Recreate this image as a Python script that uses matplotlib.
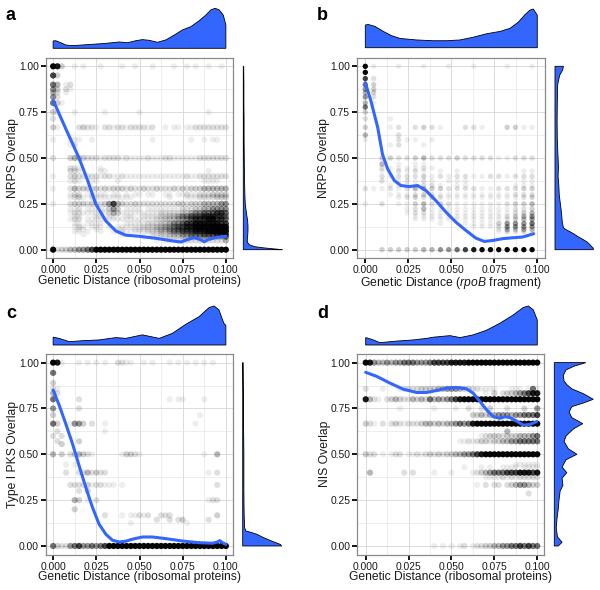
import matplotlib
matplotlib.use("Agg")
import matplotlib.pyplot as plt
import numpy as np

plt.rcParams['font.family'] = ['Liberation Sans', 'DejaVu Sans']
plt.rcParams['mathtext.fontset'] = 'custom'
plt.rcParams['mathtext.rm'] = 'Liberation Sans'
plt.rcParams['mathtext.it'] = 'Liberation Sans:italic'

BLUE = '#3366FF'
W, H = 600, 590

# ---------------- data ----------------
# x positions of the scatter columns (distance values)
DIST_COLS = [0.0, 0.0025, 0.005, 0.0075, 0.01, 0.0125, 0.015, 0.0175, 0.02, 0.0225,
             0.025, 0.0275, 0.03, 0.0325, 0.035, 0.0375, 0.04, 0.0425, 0.045, 0.0475,
             0.05, 0.0525, 0.055, 0.0575, 0.06, 0.0625, 0.065, 0.0675, 0.07, 0.0725,
             0.075, 0.0775, 0.08, 0.0825, 0.085, 0.0875, 0.09, 0.0925, 0.095, 0.0975, 0.1]
RPOB_COLS = [0.0, 0.0049, 0.0097, 0.0146, 0.0194, 0.0243, 0.0291, 0.034, 0.0388, 0.0437,
             0.0485, 0.0534, 0.0582, 0.0631, 0.0679, 0.0728, 0.0776, 0.0825, 0.0873, 0.0922, 0.097]

# digit in a row string -> number of overlapping points at that spot
STACK = [0, 1, 2, 3, 5, 8, 12, 20, 35, 60]

# panel a: NRPS overlap vs ribosomal protein distance
A_LEVELS = [1.0, 0.95, 0.9, 0.875, 0.857, 0.833, 0.8, 0.75, 0.714, 0.667, 0.6, 0.571,
            0.5, 0.444, 0.429, 0.4, 0.375, 0.333, 0.3, 0.286, 0.25, 0.222, 0.2, 0.182,
            0.167, 0.143, 0.125, 0.111, 0.1, 0.083, 0.071, 0.05, 0.0]
A_ROWS = [
    "9830010100 0100001001 0001000010 0101001001 0",
    "7300000000 0000000000 0000000000 0000000000 0",
    "6401200000 0000000000 0000000000 0000000000 0",
    "5302100000 0000000000 0000000000 0000000000 0",
    "4201000000 0000000000 0000000000 0000000000 0",
    "5200000000 0000000000 0000000000 0000000000 0",
    "6310000000 0000000000 0000000000 0000000000 0",
    "3100010000 0010000000 1000000000 0000001000 0",
    "2000000000 0000000000 0000000000 0000000000 0",
    "3100002322 1022122122 2212001011 0112222222 2",
    "1000111001 0000000000 0001000000 0010010110 0",
    "0000120000 0000000000 0000000000 0000000000 0",
    "2000343322 2122221211 1121112211 1111222222 2",
    "0000221000 0100000000 0000000000 0000000000 0",
    "0000221000 0110000000 0000000000 0000001000 0",
    "1000232222 2122112111 1111111111 1211222222 2",
    "0000121001 1000010000 0000000000 0000011110 0",
    "1000243332 3232333232 2322322232 3233344444 4",
    "0000122011 1110110101 1011001101 1211222333 3",
    "0000123102 1111111110 0000000100 0111222233 3",
    "1000233323 2235743223 2222222223 3233344445 5",
    "0000112011 1113530111 1011111111 2223344555 5",
    "0000122111 1112431111 1111122222 3345566677 6",
    "0000011000 1101100110 0111122334 5566677766 5",
    "0000122011 1111111111 1111223334 4567778877 6",
    "0000011011 1100000111 1122233455 6778888887 7",
    "0000012101 1101011111 1222334456 6778888888 8",
    "0000001100 1000001001 1111233445 5667777887 7",
    "0000011010 0100111111 1122233455 6667778888 8",
    "0000000100 0000001000 0001121233 4455566677 7",
    "0000000000 0000000000 0101112222 3344444444 6",
    "0000000000 0000000000 0000101111 1222222222 4",
    "9233445567 9999999999 9999999999 9999999999 9",
]
A_SMOOTH_X = [0.0, 0.0073, 0.015, 0.02, 0.0247, 0.0305, 0.0363, 0.042, 0.0498, 0.0595,
              0.069, 0.074, 0.0778, 0.0817, 0.0846, 0.0875, 0.0903, 0.0942, 0.1]
A_SMOOTH_Y = [0.815, 0.66, 0.50, 0.377, 0.249, 0.157, 0.102, 0.079, 0.073, 0.062,
              0.048, 0.042, 0.055, 0.066, 0.057, 0.044, 0.057, 0.066, 0.073]
A_TOP_X = [0.0, 0.0015, 0.0044, 0.0073, 0.0112, 0.017, 0.0228, 0.0286, 0.0344, 0.0382,
           0.0431, 0.0479, 0.0517, 0.0556, 0.0604, 0.0653, 0.0701, 0.0749, 0.0797, 0.0846,
           0.0884, 0.0913, 0.0938, 0.0961, 0.0985, 0.1]
A_TOP_D = [0.183, 0.19, 0.14, 0.083, 0.067, 0.083, 0.1, 0.117, 0.14, 0.158,
           0.14, 0.19, 0.217, 0.2, 0.15, 0.21, 0.33, 0.46, 0.54, 0.69,
           0.83, 0.96, 1.0, 0.96, 0.83, 0.58]
A_RIGHT_Y = [0.0, 0.004, 0.01, 0.016, 0.025, 0.035, 0.05, 0.07, 0.1, 0.13, 0.16, 0.2,
             0.25, 0.3, 0.4, 0.5, 0.6, 0.7, 0.8, 0.9, 1.0]
A_RIGHT_D = [1.0, 0.8, 0.52, 0.3, 0.17, 0.12, 0.1, 0.11, 0.12, 0.12, 0.11, 0.08,
             0.05, 0.04, 0.03, 0.025, 0.02, 0.02, 0.015, 0.015, 0.01]

# panel b: NRPS overlap vs rpoB distance
B_LEVELS = [1.0, 0.967, 0.933, 0.9, 0.875, 0.857, 0.833, 0.8, 0.778, 0.75, 0.714, 0.667,
            0.625, 0.6, 0.571, 0.5, 0.467, 0.444, 0.429, 0.4, 0.375, 0.35, 0.333, 0.3,
            0.286, 0.25, 0.222, 0.2, 0.182, 0.167, 0.143, 0.125, 0.111, 0.1, 0.0]
B_ROWS = [
    "9100100100 1001000100 1",
    "9000000000 0000000000 0",
    "7200000000 0000000000 0",
    "6300000000 0000000000 0",
    "5300000000 0000000000 0",
    "4300000000 0000000000 0",
    "5200000000 0000000000 0",
    "4100000000 0000000000 0",
    "6000000000 0000000000 0",
    "3000000000 0000000000 0",
    "2001000000 0000000000 0",
    "3001202321 0022100331 1",
    "4000200000 0000000000 0",
    "1000211010 0000000000 0",
    "0001200100 0000000000 0",
    "0033223422 2322221122 2",
    "0040101100 0000000000 0",
    "0021111210 0000000000 0",
    "0010212101 0100000001 1",
    "0021222312 1221122122 2",
    "0020121210 1110000001 1",
    "0001111221 0110000011 1",
    "2112124433 2222112223 3",
    "0001112321 1111111122 2",
    "0000123232 1111111112 3",
    "1020113423 2111111233 4",
    "0000012411 1111111122 3",
    "0000012211 1111111123 4",
    "0000001111 1111111234 5",
    "0000001111 1111111234 5",
    "0000000001 0011113555 6",
    "0000000000 0001112555 5",
    "0000000000 0000001434 3",
    "0000000000 0000001323 2",
    "0033333445 5678999999 9",
]
B_SMOOTH_X = [0.0, 0.0033, 0.0072, 0.01, 0.013, 0.0169, 0.0207, 0.0256, 0.0304, 0.0353,
              0.041, 0.0469, 0.0527, 0.0585, 0.0643, 0.0692, 0.074, 0.0798, 0.0857, 0.0915, 0.0979]
B_SMOOTH_Y = [0.911, 0.81, 0.667, 0.52, 0.44, 0.377, 0.35, 0.344, 0.35, 0.322,
              0.268, 0.205, 0.15, 0.105, 0.063, 0.045, 0.05, 0.06, 0.065, 0.069, 0.087]
B_TOP_X = [0.0, 0.0017, 0.0056, 0.0105, 0.0153, 0.0202, 0.0298, 0.0395, 0.0473, 0.055,
           0.0628, 0.0705, 0.0783, 0.0841, 0.089, 0.0928, 0.0957, 0.0977, 0.1]
B_TOP_D = [0.586, 0.6, 0.55, 0.42, 0.31, 0.24, 0.2, 0.18, 0.18, 0.2,
           0.27, 0.36, 0.42, 0.5, 0.66, 0.85, 0.97, 1.0, 0.84]
B_RIGHT_Y = [0.0, 0.008, 0.016, 0.03, 0.043, 0.057, 0.071, 0.085, 0.098, 0.11, 0.12, 0.15,
             0.2, 0.25, 0.3, 0.35, 0.4, 0.45, 0.5, 0.6, 0.7, 0.8, 0.9, 0.95, 0.98, 1.0]
B_RIGHT_D = [1.0, 1.0, 0.96, 0.9, 0.83, 0.72, 0.6, 0.5, 0.39, 0.28, 0.22, 0.19,
             0.17, 0.14, 0.11, 0.1, 0.08, 0.09, 0.08, 0.06, 0.055, 0.06, 0.07, 0.12, 0.2, 0.22]

# panel c: Type I PKS overlap vs ribosomal protein distance
C_LEVELS = [1.0, 0.944, 0.889, 0.857, 0.833, 0.8, 0.75, 0.714, 0.667, 0.625, 0.6, 0.571,
            0.556, 0.5, 0.444, 0.4, 0.333, 0.3, 0.25, 0.2, 0.167, 0.143, 0.125, 0.0]
C_ROWS = [
    "9810001010 1010022110 0101000101 0101010100 0",
    "6000000000 0000000000 0000000000 0000000000 0",
    "3000000000 0000000000 0000000000 0000000000 0",
    "2100000000 0000000000 0000000000 0000000000 0",
    "4200000000 0000000000 0000000000 0000000000 0",
    "6000002000 0000000000 0000000101 1000010000 0",
    "5000002000 0000000000 0000000000 0000000000 0",
    "3000000000 0000000000 0000000000 0000100000 0",
    "6300155302 0010000000 0000000000 0001000000 0",
    "0200000000 0010000000 0000000000 0000000000 0",
    "2020000000 0000000000 0000000000 0000000000 0",
    "0200003000 0000000000 0000000000 0000000000 0",
    "0030000000 0000000000 0000000000 0000000000 0",
    "4030234321 0000001332 1000000000 0000010040 0",
    "0001010000 0000000000 0000000000 0000000000 0",
    "0002002242 3220000000 0000000000 0000001020 0",
    "0000222231 2211101000 0000000000 0000000020 0",
    "0000002030 0000000000 0000000000 0000000000 0",
    "0000043010 2000000000 0000000000 0000001220 0",
    "0000030000 0000000000 0000000000 0000000000 0",
    "0000000000 0020001011 2120022200 0000000030 0",
    "0000000000 0000000000 0000200202 3000002000 0",
    "0000000000 0000000010 0000000000 0100000000 0",
    "6322567556 5679999999 9999999999 9999999999 9",
]
C_SMOOTH_X = [0.0, 0.0035, 0.0073, 0.0112, 0.015, 0.0189, 0.0228, 0.0266, 0.0305, 0.0344,
              0.0382, 0.042, 0.0459, 0.0517, 0.0575, 0.0653, 0.0749, 0.0846, 0.0923, 0.0952,
              0.0965, 0.098, 0.1]
C_SMOOTH_Y = [0.85, 0.768, 0.667, 0.558, 0.439, 0.32, 0.21, 0.119, 0.064, 0.031,
              0.022, 0.026, 0.037, 0.049, 0.049, 0.04, 0.027, 0.018, 0.015, 0.022,
              0.029, 0.018, 0.009]
C_TOP_X = [0.0, 0.0035, 0.0093, 0.017, 0.0266, 0.0363, 0.042, 0.0517, 0.0614, 0.0691,
           0.0768, 0.0846, 0.0903, 0.0932, 0.096, 0.0988, 0.1]
C_TOP_D = [0.2, 0.17, 0.085, 0.11, 0.13, 0.19, 0.17, 0.26, 0.17, 0.3,
           0.53, 0.73, 0.96, 1.0, 0.9, 0.56, 0.5]
C_RIGHT_Y = [0.0, 0.009, 0.027, 0.046, 0.064, 0.075, 0.082, 0.1, 0.15, 0.2, 0.3, 0.4,
             0.5, 0.6, 0.7, 0.8, 0.9, 1.0]
C_RIGHT_D = [1.0, 0.96, 0.74, 0.53, 0.36, 0.2, 0.08, 0.05, 0.04, 0.035, 0.03, 0.03,
             0.03, 0.025, 0.02, 0.02, 0.015, 0.01]

# panel d: NIS overlap vs ribosomal protein distance
D_LEVELS = [1.0, 0.857, 0.833, 0.8, 0.75, 0.714, 0.667, 0.625, 0.6, 0.571, 0.5, 0.444,
            0.429, 0.4, 0.375, 0.333, 0.286, 0.0]
D_ROWS = [
    "9854454556 6655567777 8888999999 9999999999 9",
    "2000100012 2223333445 5543322111 1000111016 1",
    "0000000000 0000000000 0000000010 3023345678 8",
    "8421023432 2434364545 6789999999 9999999999 9",
    "0000000010 0000001000 0100200203 0002000300 5",
    "0000000000 0000000000 0000033434 4555455666 7",
    "3210202321 2223443434 4565689999 9999999999 9",
    "0000000000 0000000000 0000000000 0004000000 0",
    "0000000000 0000000000 0000000123 3323334445 6",
    "0000000000 0000000000 0011212332 3344556666 6",
    "3220101220 1121232323 3445567899 9999999999 9",
    "0000000000 0000000000 0000000000 0000011111 1",
    "0000000000 0000000000 0001000101 0011110111 1",
    "0400000002 0200001000 1000012345 6667778887 8",
    "0000000000 0000000000 0000000011 1121212222 2",
    "0000000000 0000000000 0000001020 2202345543 3",
    "0000000000 0000000000 0000000000 0000000020 0",
    "0000000000 0000001010 1012012233 4455667676 6",
]
D_SMOOTH_X = [0.0, 0.0064, 0.0142, 0.0219, 0.0297, 0.0355, 0.0414, 0.0472, 0.053, 0.0588,
              0.0627, 0.0666, 0.0705, 0.0744, 0.0783, 0.0812, 0.0841, 0.088, 0.0918, 0.0957, 0.0996]
D_SMOOTH_Y = [0.947, 0.925, 0.888, 0.855, 0.837, 0.837, 0.848, 0.861, 0.864, 0.857,
              0.833, 0.788, 0.742, 0.705, 0.696, 0.705, 0.70, 0.681, 0.659, 0.663, 0.678]
D_TOP_X = [0.0, 0.0035, 0.0083, 0.018, 0.0278, 0.0355, 0.0394, 0.0491, 0.055, 0.0627,
           0.0705, 0.0783, 0.086, 0.0918, 0.0948, 0.0977, 0.1]
D_TOP_D = [0.19, 0.145, 0.06, 0.1, 0.13, 0.17, 0.2, 0.24, 0.19, 0.26,
           0.38, 0.56, 0.77, 0.96, 1.0, 0.9, 0.64]
D_RIGHT_Y = [0.0, 0.02, 0.05, 0.1, 0.15, 0.2, 0.25, 0.3, 0.33, 0.37, 0.4, 0.43, 0.47,
             0.5, 0.53, 0.57, 0.6, 0.64, 0.667, 0.7, 0.73, 0.76, 0.78, 0.8, 0.83, 0.857,
             0.88, 0.9, 0.93, 0.96, 0.98, 1.0]
D_RIGHT_D = [0.1, 0.2, 0.08, 0.05, 0.07, 0.1, 0.12, 0.15, 0.22, 0.2, 0.32, 0.2, 0.3,
             0.58, 0.36, 0.25, 0.3, 0.5, 0.73, 0.45, 0.38, 0.45, 0.75, 1.0, 0.75, 0.45,
             0.32, 0.25, 0.23, 0.3, 0.5, 0.81]

X_TICKS = [0.0, 0.025, 0.05, 0.075, 0.1]
X_TICKLABELS = ['0.000', '0.025', '0.050', '0.075', '0.100']
Y_TICKS = [0.0, 0.25, 0.5, 0.75, 1.0]
Y_TICKLABELS = ['0.00', '0.25', '0.50', '0.75', '1.00']


def px_rect(x0, y0, x1, y1):
    return [x0 / W, 1 - y1 / H, (x1 - x0) / W, (y1 - y0) / H]


def decode(cols, levels, rows):
    xs, ys, ns = [], [], []
    for lev, row in zip(levels, rows):
        row = row.replace(' ', '').ljust(len(cols), '0')
        for c, ch in zip(cols, row):
            n = STACK[int(ch)]
            if n:
                xs.append(c)
                ys.append(lev)
                ns.append(n)
    return np.array(xs), np.array(ys), np.array(ns)


def draw_panel(fig, letter, boxes, xlim, cols, levels, rows, sx, sy,
               tx, td, ry, rd, ylabel, xlabel, dot_size):
    main, top, right, letter_xy = boxes
    ylim = (-0.047, 1.047)

    ax = fig.add_axes(px_rect(*main))
    xs, ys, ns = decode(cols, levels, rows)
    alpha = 1 - (1 - 0.065) ** ns
    colors = np.zeros((len(xs), 4))
    colors[:, 3] = alpha
    ax.scatter(xs, ys, s=dot_size, c=colors, linewidths=0, zorder=2)
    ax.plot(sx, sy, color=BLUE, lw=2.2, zorder=3, solid_capstyle='round')

    ax.set_xlim(xlim)
    ax.set_ylim(ylim)
    ax.set_xticks(X_TICKS)
    ax.set_xticklabels(X_TICKLABELS)
    ax.set_yticks(Y_TICKS)
    ax.set_yticklabels(Y_TICKLABELS)
    ax.set_xticks([0.0125, 0.0375, 0.0625, 0.0875], minor=True)
    ax.set_yticks([0.125, 0.375, 0.625, 0.875], minor=True)
    ax.set_axisbelow(True)
    ax.grid(which='major', color='#D6D6D6', lw=0.6)
    ax.grid(which='minor', color='#E6E6E6', lw=0.5)
    ax.tick_params(which='minor', length=0)
    ax.tick_params(which='major', length=3.5, width=1.3, color='black',
                   labelsize=7.4, pad=1.5, labelcolor='#1a1a1a')
    for sp in ax.spines.values():
        sp.set_color('#8a8a8a')
        sp.set_linewidth(0.9)
    ax.set_xlabel(xlabel, fontsize=8.7, color='#1a1a1a')
    ax.set_ylabel(ylabel, fontsize=8.7, color='#1a1a1a')
    ax.xaxis.set_label_coords(0.5, -0.083)
    ax.yaxis.set_label_coords(-0.143, 0.5)

    # top marginal density
    tax = fig.add_axes(px_rect(*top))
    tx = np.asarray(tx)
    td = np.asarray(td)
    tax.fill(np.r_[tx[0], tx, tx[-1]], np.r_[0, td, 0], facecolor=BLUE,
             edgecolor='black', lw=0.6, clip_on=False)
    tax.set_xlim(xlim)
    tax.set_ylim(0, 1)
    tax.axis('off')

    # right marginal density
    rax = fig.add_axes(px_rect(*right))
    ry = np.asarray(ry)
    rd = np.asarray(rd)
    rax.fill(np.r_[0, rd, 0], np.r_[ry[0], ry, ry[-1]], facecolor=BLUE,
             edgecolor='black', lw=0.6, clip_on=False)
    rax.set_xlim(0, 1)
    rax.set_ylim(ylim)
    rax.axis('off')

    fig.text(letter_xy[0] / W, 1 - letter_xy[1] / H, letter, fontsize=13,
             fontweight='bold', va='baseline', ha='left')


fig = plt.figure(figsize=(6, 5.9), dpi=100)

XLAB_RIBO = 'Genetic Distance (ribosomal proteins)'
XLAB_RPOB = r'Genetic Distance ($\mathit{rpoB}$ fragment)'

draw_panel(fig, 'a',
           ((45.7, 57.7, 233.3, 258.3), (45.7, 8.3, 233.3, 48.3),
            (243.3, 57.7, 282.3, 258.3), (5, 20.5)),
           (-0.0043, 0.1043), DIST_COLS, A_LEVELS, A_ROWS, A_SMOOTH_X, A_SMOOTH_Y,
           A_TOP_X, A_TOP_D, A_RIGHT_Y, A_RIGHT_D, 'NRPS Overlap', XLAB_RIBO, 20)

draw_panel(fig, 'b',
           ((356.7, 57.7, 545.0, 258.3), (356.7, 9.0, 545.0, 47.7),
            (555.0, 57.7, 593.3, 258.3), (317, 20.5)),
           (-0.005, 0.1045), RPOB_COLS, B_LEVELS, B_ROWS, B_SMOOTH_X, B_SMOOTH_Y,
           B_TOP_X, B_TOP_D, B_RIGHT_Y, B_RIGHT_D, 'NRPS Overlap', XLAB_RPOB, 15)

draw_panel(fig, 'c',
           ((45.7, 354.0, 233.3, 554.6), (45.7, 306.0, 233.3, 345.0),
            (242.7, 354.0, 281.7, 554.6), (6, 317.5)),
           (-0.0043, 0.1043), DIST_COLS, C_LEVELS, C_ROWS, C_SMOOTH_X, C_SMOOTH_Y,
           C_TOP_X, C_TOP_D, C_RIGHT_Y, C_RIGHT_D, 'Type I PKS Overlap', XLAB_RIBO, 20)

draw_panel(fig, 'd',
           ((357.3, 354.0, 544.3, 554.6), (357.3, 306.0, 544.3, 345.0),
            (554.3, 354.0, 593.3, 554.6), (317, 317.5)),
           (-0.0049, 0.1041), DIST_COLS, D_LEVELS, D_ROWS, D_SMOOTH_X, D_SMOOTH_Y,
           D_TOP_X, D_TOP_D, D_RIGHT_Y, D_RIGHT_D, 'NIS Overlap', XLAB_RIBO, 20)

fig.savefig('out.png', dpi=100)
